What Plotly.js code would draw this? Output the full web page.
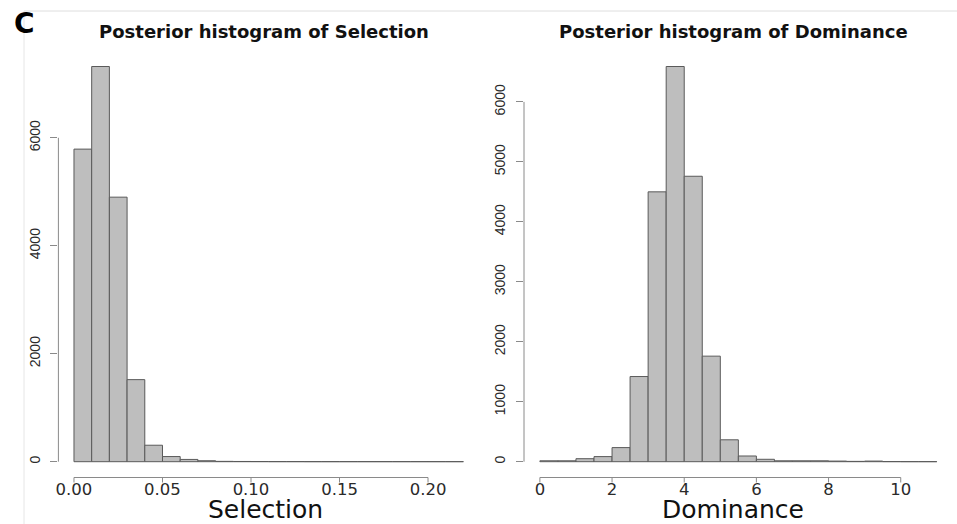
<!DOCTYPE html>
<html>
<head>
<meta charset="utf-8">
<script src="https://cdn.plot.ly/plotly-3.0.1.min.js"></script>
<style>
  html, body { margin: 0; padding: 0; background: #ffffff; }
  #chart { width: 957px; height: 524px; }
</style>
</head>
<body>
<div id="chart"></div>
<script>
// Posterior sample histograms: counts per bin
const selectionBinStart = 0;
const selectionBinWidth = 0.01;
const selectionCounts = [5790, 7320, 4900, 1520, 305, 95, 42, 18, 6, 4, 3, 2, 2, 1, 1, 1, 1, 1, 1, 1, 1, 1];

const dominanceBinStart = 0;
const dominanceBinWidth = 0.5;
const dominanceCounts = [15, 15, 50, 85, 235, 1420, 4500, 6590, 4760, 1760, 365, 95, 40, 15, 15, 15, 10, 5, 10, 2, 1, 1];

// Axis ticks
const selectionXTicks = [0, 0.05, 0.10, 0.15, 0.20];
const selectionXLabels = ["0.00", "0.05", "0.10", "0.15", "0.20"];
const selectionYTicks = [0, 2000, 4000, 6000];
const selectionYLabels = ["0", "2000", "4000", "6000"];

const dominanceXTicks = [0, 2, 4, 6, 8, 10];
const dominanceXLabels = ["0", "2", "4", "6", "8", "10"];
const dominanceYTicks = [0, 1000, 2000, 3000, 4000, 5000, 6000];
const dominanceYLabels = ["0", "1000", "2000", "3000", "4000", "5000", "6000"];

const panelTitles = ["Posterior histogram of Selection", "Posterior histogram of Dominance"];
const axisTitles = ["Selection", "Dominance"];
const panelLetter = "C";

function centers(start, width, counts) {
  return counts.map((_, i) => start + width * (i + 0.5));
}

// R-like padded range: 4% either side
function padRange(lo, hi) {
  const d = (hi - lo) * 0.04;
  return [lo - d, hi + d];
}

const selEnd = selectionBinStart + selectionBinWidth * selectionCounts.length;
const domEnd = dominanceBinStart + dominanceBinWidth * dominanceCounts.length;

const barStyle = {
  color: '#bebebe',
  line: { color: '#5a5a5a', width: 1 }
};

const traces = [
  {
    type: 'bar',
    x: centers(selectionBinStart, selectionBinWidth, selectionCounts),
    y: selectionCounts,
    width: selectionBinWidth,
    marker: barStyle,
    xaxis: 'x', yaxis: 'y',
    hoverinfo: 'x+y'
  },
  {
    type: 'bar',
    x: centers(dominanceBinStart, dominanceBinWidth, dominanceCounts),
    y: dominanceCounts,
    width: dominanceBinWidth,
    marker: barStyle,
    xaxis: 'x2', yaxis: 'y2',
    hoverinfo: 'x+y'
  }
];

const W = 957, H = 524;
const leftDomain = [58.4 / W, 479 / W];
const rightDomain = [524 / W, 952.7 / W];
const yDomain = [(H - 477.5) / H, (H - 50.7) / H];

const axisGray = '#8a8a8a';
const xTickFont = { family: 'DejaVu Sans, sans-serif', size: 16.5, color: '#2a2a2a' };
const yTickFont = { family: 'Liberation Sans, Arial, sans-serif', size: 14, color: '#2a2a2a' };
const xTitleFont = { family: 'DejaVu Sans, sans-serif', size: 25, color: '#111' };

// x axis: labels only, tick marks are drawn as shapes below
function xAxis(domain, range, ticks, labels, anchor) {
  return {
    domain: domain, range: range, anchor: anchor,
    showgrid: false, zeroline: false, showline: false,
    ticks: '',
    tickmode: 'array', tickvals: ticks, ticktext: labels,
    tickfont: xTickFont,
    fixedrange: true
  };
}

function yAxis(range, ticks, labels, anchor) {
  return {
    domain: yDomain, range: range, anchor: anchor,
    showgrid: false, zeroline: false, showline: false,
    ticks: 'outside', ticklen: 7, tickwidth: 1, tickcolor: axisGray,
    tickmode: 'array', tickvals: ticks, ticktext: labels,
    tickangle: -90, tickfont: yTickFont, ticklabelstandoff: 5,
    fixedrange: true
  };
}

const selMax = Math.max(...selectionCounts);
const domMax = Math.max(...dominanceCounts);

// Axis lines spanning only first to last tick, plus x tick marks
function axisLines(xref, yref, xTicks, yTicks, xDomainLeft, yDomainBottom) {
  const out = [
    {
      type: 'line', xref: xref, yref: 'paper',
      x0: xTicks[0], x1: xTicks[xTicks.length - 1],
      y0: yDomainBottom, y1: yDomainBottom,
      line: { color: axisGray, width: 1 }
    },
    {
      type: 'line', xref: 'paper', yref: yref,
      x0: xDomainLeft, x1: xDomainLeft,
      y0: yTicks[0], y1: yTicks[yTicks.length - 1],
      line: { color: axisGray, width: 1 }
    }
  ];
  xTicks.forEach(t => out.push({
    type: 'line', xref: xref, yref: 'paper',
    x0: t, x1: t, y0: yDomainBottom, y1: yDomainBottom - 5 / H,
    line: { color: axisGray, width: 1 }
  }));
  return out;
}

const shapes = [
  ...axisLines('x', 'y', selectionXTicks, selectionYTicks, leftDomain[0], yDomain[0]),
  ...axisLines('x2', 'y2', dominanceXTicks, dominanceYTicks, rightDomain[0], yDomain[0]),
  // figure panel frame
  { type: 'line', xref: 'paper', yref: 'paper', x0: 24 / W, x1: 1, y0: (H - 11) / H, y1: (H - 11) / H,
    line: { color: '#dedede', width: 1 } },
  { type: 'line', xref: 'paper', yref: 'paper', x0: 24 / W, x1: 24 / W, y0: 0, y1: (H - 11) / H,
    line: { color: '#e6e6e6', width: 1 } }
];

const titleFont = { family: 'DejaVu Sans, sans-serif', size: 18, color: '#111', weight: 'bold' };

const annotations = [
  {
    text: panelTitles[0], xref: 'paper', yref: 'paper',
    x: 264 / W, y: (H - 31) / H,
    xanchor: 'center', yanchor: 'middle', showarrow: false, font: titleFont
  },
  {
    text: panelTitles[1], xref: 'paper', yref: 'paper',
    x: 733.5 / W, y: (H - 31) / H,
    xanchor: 'center', yanchor: 'middle', showarrow: false, font: titleFont
  },
  {
    text: axisTitles[0], xref: 'paper', yref: 'paper',
    x: 265 / W, y: (H - 509) / H,
    xanchor: 'center', yanchor: 'middle', showarrow: false, font: xTitleFont
  },
  {
    text: axisTitles[1], xref: 'paper', yref: 'paper',
    x: 733 / W, y: (H - 509) / H,
    xanchor: 'center', yanchor: 'middle', showarrow: false, font: xTitleFont
  },
  {
    text: panelLetter, xref: 'paper', yref: 'paper',
    x: 24.5 / W, y: (H - 23.5) / H,
    xanchor: 'center', yanchor: 'middle', showarrow: false,
    font: { family: 'DejaVu Sans, sans-serif', size: 28, color: '#000', weight: 'bold' }
  }
];

const selRange = padRange(selectionBinStart, selEnd);
const domRange = padRange(dominanceBinStart, domEnd);

const layout = {
  width: W, height: H,
  margin: { l: 0, r: 0, t: 0, b: 0 },
  paper_bgcolor: '#ffffff', plot_bgcolor: '#ffffff',
  showlegend: false,
  bargap: 0,
  xaxis: xAxis(leftDomain, selRange, selectionXTicks, selectionXLabels, 'y'),
  yaxis: yAxis([-0.04 * selMax, 1.04 * selMax], selectionYTicks, selectionYLabels, 'x'),
  xaxis2: xAxis(rightDomain, domRange, dominanceXTicks, dominanceXLabels, 'y2'),
  yaxis2: yAxis([-0.04 * domMax, 1.04 * domMax], dominanceYTicks, dominanceYLabels, 'x2'),
  shapes: shapes,
  annotations: annotations
};

Plotly.newPlot('chart', traces, layout, { displayModeBar: false, staticPlot: true });
</script>
</body>
</html>
